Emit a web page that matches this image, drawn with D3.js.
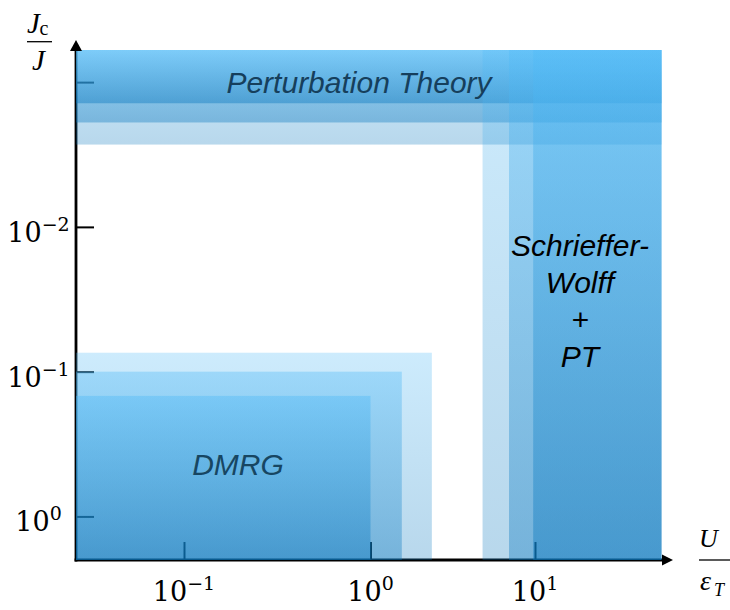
<!DOCTYPE html>
<html><head><meta charset="utf-8">
<script src="https://cdn.jsdelivr.net/npm/d3@7"></script>
<style>html,body{margin:0;padding:0;background:#fff;} svg{display:block;}</style>
</head><body>
<svg id="chart" width="730" height="610"></svg>
<script>
// ---------------- data ----------------
const xExtent = [0.026, 58];            // U/eps_T span of the schematic
const yExtent = [6e-4, 2.0];            // Jc/J span (small values at top)
const xTicks = [0.1, 1, 10];
const xTickExp = ["\u22121", "0", "1"];
const yTicks = [1e-3, 1e-2, 1e-1, 1];
const yTickExp = [null, "\u22122", "\u22121", "0"];

// Perturbation Theory: Jc/J below these limits (light, medium, dark)
const ptJcMax = [2.7e-3, 1.9e-3, 1.4e-3];
// Schrieffer-Wolff + PT: U/eps_T above these limits (light, medium, dark)
const swUMin = [4.8, 6.95, 9.75];
// DMRG: U/eps_T below and Jc/J above these limits (light, medium, dark)
const dmrgUMax = [2.36, 1.55, 1.0];
const dmrgJcMin = [0.074, 0.1, 0.147];

const regionLabels = ["Perturbation Theory", "DMRG"];
const swLabelLines = ["Schrieffer-", "Wolff", "+", "PT"];

// ---------------- drawing ----------------
const levelOpacity = [0.29, 0.38, 0.43];
const svg = d3.select("#chart");

const defs = svg.append("defs");
const grad = defs.append("linearGradient").attr("id", "blueGrad")
  .attr("x1", 0).attr("y1", 0).attr("x2", 0).attr("y2", 1);
grad.append("stop").attr("offset", "0%").attr("stop-color", "rgb(82,187,247)");
grad.append("stop").attr("offset", "100%").attr("stop-color", "rgb(10,119,189)");

// schematic log axis with uneven decades
const x = d3.scaleLog()
  .domain([xExtent[0], ...xTicks, xExtent[1]])
  .range([76, 184, 370.5, 535, 661.5]);
const y = d3.scaleLog().domain(yExtent).range([50, 560]);

const X0 = x(xExtent[0]), X1 = x(xExtent[1]);
const Y0 = y(yExtent[0]), Y1 = y(yExtent[1]);

// axes (under the translucent regions)
const gx = svg.append("g").attr("transform", `translate(0,${Y1})`)
  .call(d3.axisBottom(x).tickValues(xTicks).tickSizeInner(-18).tickSizeOuter(0).tickFormat(""));
gx.select(".domain").remove();
gx.selectAll(".tick line").attr("stroke", "#000").attr("stroke-width", 2);

const gy = svg.append("g").attr("transform", `translate(${X0},0)`)
  .call(d3.axisLeft(y).tickValues(yTicks).tickSizeInner(-18).tickSizeOuter(0).tickFormat(""));
gy.select(".domain").remove();
gy.selectAll(".tick line").attr("stroke", "#000").attr("stroke-width", 2);

svg.append("line").attr("x1", X0).attr("x2", X0).attr("y1", Y1 + 1.5).attr("y2", Y0 + 1)
  .attr("stroke", "#000").attr("stroke-width", 2.8);
svg.append("line").attr("x1", X0 - 1.4).attr("x2", X1 + 1).attr("y1", Y1).attr("y2", Y1)
  .attr("stroke", "#000").attr("stroke-width", 2.8);

function drawRegions(rows) {
  svg.append("g").selectAll("rect").data(rows).join("rect")
    .attr("x", d => x(d.x0))
    .attr("width", d => x(d.x1) - x(d.x0))
    .attr("y", d => y(d.y0))
    .attr("height", d => y(d.y1) - y(d.y0))
    .attr("fill", "url(#blueGrad)")
    .attr("fill-opacity", d => levelOpacity[d.level]);
}

drawRegions(ptJcMax.map((v, i) => ({level: i, x0: xExtent[0], x1: xExtent[1], y0: yExtent[0], y1: v})));
drawRegions(swUMin.map((v, i) => ({level: i, x0: v, x1: xExtent[1], y0: yExtent[0], y1: yExtent[1]})));
drawRegions(dmrgUMax.map((v, i) => ({level: i, x0: xExtent[0], x1: v, y0: dmrgJcMin[i], y1: yExtent[1]})));

// arrowheads
svg.append("path").attr("d", `M${X0},${Y0 - 10} L${X0 - 6},${Y0 + 1} L${X0 + 6},${Y0 + 1} Z`).attr("fill", "#000");
svg.append("path").attr("d", `M${X1 + 11.5},${Y1} L${X1 + 0.5},${Y1 - 5.5} L${X1 + 0.5},${Y1 + 5.5} Z`).attr("fill", "#000");

// region labels
const sans = "'Liberation Sans', Arial, Helvetica, sans-serif";
svg.append("text").attr("x", 359).attr("y", 93).attr("text-anchor", "middle")
  .attr("font-family", sans).attr("font-style", "italic").attr("font-size", 30)
  .attr("fill", "#163f5c").text(regionLabels[0]);
svg.append("text").attr("x", 238).attr("y", 475).attr("text-anchor", "middle")
  .attr("font-family", sans).attr("font-style", "italic").attr("font-size", 30)
  .attr("fill", "#174662").text(regionLabels[1]);
svg.append("g").selectAll("text").data(swLabelLines).join("text")
  .attr("x", 580).attr("y", (d, i) => 256 + i * 37).attr("text-anchor", "middle")
  .attr("font-family", sans).attr("font-style", "italic").attr("font-size", 30)
  .attr("fill", "#000").text(d => d);

// tick labels
const serif = "'DejaVu Serif', serif";
function powLabel(sel, exp) {
  sel.append("tspan").text("10");
  sel.append("tspan").attr("font-size", 19).attr("dy", -11).text(exp);
}
xTicks.forEach((v, i) => {
  const t = svg.append("text").attr("x", x(v)).attr("y", 601).attr("text-anchor", "middle")
    .attr("font-family", serif).attr("font-size", 27).attr("fill", "#000");
  powLabel(t, xTickExp[i]);
});
yTicks.forEach((v, i) => {
  if (yTickExp[i] === null) return;
  const t = svg.append("text").attr("x", 38.5).attr("y", y(v) + 15).attr("text-anchor", "middle")
    .attr("font-family", serif).attr("font-size", 27).attr("fill", "#000");
  powLabel(t, yTickExp[i]);
});

// axis titles
const mserif = "'Liberation Serif', 'Times New Roman', serif";
svg.append("text").attr("x", 27).attr("y", 33).attr("font-family", mserif).attr("font-style", "italic")
  .attr("font-size", 29).text("J");
svg.append("text").attr("x", 39.5).attr("y", 35).attr("font-family", mserif)
  .attr("font-size", 20).text("c");
svg.append("line").attr("x1", 27).attr("x2", 52).attr("y1", 41.7).attr("y2", 41.7)
  .attr("stroke", "#000").attr("stroke-width", 1.3);
svg.append("text").attr("x", 32).attr("y", 70).attr("font-family", mserif).attr("font-style", "italic")
  .attr("font-size", 29).text("J");

svg.append("text").attr("x", 699).attr("y", 547).attr("font-family", mserif).attr("font-style", "italic")
  .attr("font-size", 26).text("U");
svg.append("line").attr("x1", 699).attr("x2", 730).attr("y1", 560).attr("y2", 560)
  .attr("stroke", "#000").attr("stroke-width", 1.3);
svg.append("text").attr("x", 700).attr("y", 590).attr("font-family", mserif).attr("font-style", "italic")
  .attr("font-size", 28).text("\u03b5");
svg.append("text").attr("x", 714).attr("y", 596).attr("font-family", mserif).attr("font-style", "italic")
  .attr("font-size", 18).text("T");
</script>
</body></html>
